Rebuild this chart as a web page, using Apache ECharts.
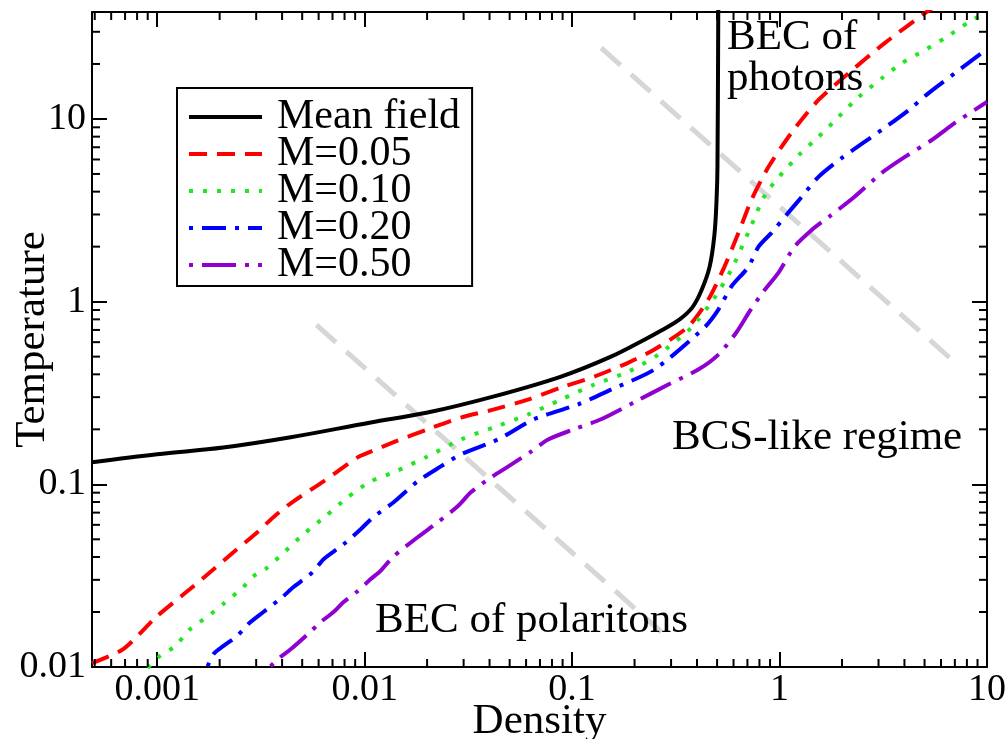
<!DOCTYPE html>
<html>
<head>
<meta charset="utf-8">
<script src="https://cdn.jsdelivr.net/npm/echarts@6/dist/echarts.min.js"></script>
<style>
  html, body { margin: 0; padding: 0; background: #fff; }
  #chart { width: 1008px; height: 739px; }
</style>
</head>
<body>
<div id="chart"></div>
<script>
// Axis ranges and decade labels
const xTickLabels = ['0.001', '0.01', '0.1', '1', '10'];
const yTickLabels = ['0.01', '0.1', '1', '10'];
const densityMin = 0.000485;
const densityMax = 10;
const tempMin = 0.01;
const tempMax = 38.5;

// Critical temperature vs density, [density, temperature]
const meanField = [
  [0.000485, 0.132], [0.001, 0.146], [0.00208, 0.159], [0.0044, 0.181],
  [0.0107, 0.218], [0.0201, 0.247], [0.042, 0.303], [0.0885, 0.389],
  [0.154, 0.50], [0.223, 0.619], [0.269, 0.695], [0.33, 0.80],
  [0.38, 0.93], [0.42, 1.15], [0.46, 1.55], [0.485, 2.3], [0.497, 3.6],
  [0.502, 5.5], [0.507, 50]
];
const m005 = [
  [0.000485, 0.0105], [0.000686, 0.01253], [0.001, 0.019], [0.00144, 0.0267],
  [0.00187, 0.0343], [0.00233, 0.0425], [0.00304, 0.0547], [0.00363, 0.0661],
  [0.00454, 0.0807], [0.00634, 0.1038], [0.00925, 0.1405], [0.0107, 0.151],
  [0.0138, 0.170], [0.0201, 0.200], [0.0291, 0.232], [0.042, 0.257],
  [0.0613, 0.291], [0.0885, 0.339], [0.128, 0.389], [0.187, 0.464],
  [0.249, 0.547], [0.363, 0.730], [0.454, 1.03], [0.542, 1.55],
  [0.634, 2.38], [0.732, 3.61], [0.885, 5.47], [1.14, 8.38],
  [1.54, 12.7], [2.15, 17.8], [3.21, 26.0], [5.01, 37.9], [6.06, 43.6]
];
const m010 = [
  [0.0009, 0.0099], [0.00103, 0.01148], [0.00122, 0.013], [0.00144, 0.0161],
  [0.00174, 0.0188], [0.00208, 0.0221], [0.0026, 0.0274], [0.00291, 0.0314],
  [0.00332, 0.0343], [0.00415, 0.0431], [0.00507, 0.0533], [0.00648, 0.0669],
  [0.00828, 0.0849], [0.0107, 0.1038], [0.0138, 0.1164], [0.0201, 0.142],
  [0.0291, 0.176], [0.042, 0.205], [0.0613, 0.241], [0.0885, 0.291],
  [0.128, 0.352], [0.187, 0.414], [0.26, 0.513], [0.376, 0.721],
  [0.48, 1.03], [0.586, 1.50], [0.716, 2.47], [0.865, 3.95],
  [1.24, 6.35], [1.54, 7.97], [1.93, 10.3], [2.41, 13.2],
  [3.11, 16.7], [3.88, 20.2], [5.01, 23.8], [6.26, 27.7],
  [8.18, 33.9], [10, 38.5]
];
const m020 = [
  [0.00175, 0.0101], [0.00187, 0.01178], [0.00208, 0.013], [0.00243, 0.0148],
  [0.00275, 0.0172], [0.00325, 0.020], [0.00402, 0.0242], [0.00454, 0.0274],
  [0.00561, 0.033], [0.00634, 0.0389], [0.00792, 0.047], [0.00957, 0.0568],
  [0.011, 0.0661], [0.0138, 0.0798], [0.018, 0.1038], [0.0233, 0.1253],
  [0.0291, 0.146], [0.0439, 0.176], [0.0655, 0.227], [0.107, 0.274],
  [0.154, 0.330], [0.249, 0.425], [0.434, 0.721], [0.507, 0.904],
  [0.586, 1.21], [0.708, 1.55], [0.792, 2.0], [0.914, 2.38],
  [1.10, 3.06], [1.28, 3.75], [1.54, 4.82], [1.99, 6.1],
  [3.11, 8.71], [4.20, 11.2], [5.25, 13.9], [7.0, 17.8],
  [9.46, 23.0], [10, 23.8]
];
const m050 = [
  [0.00352, 0.0101], [0.00393, 0.01135], [0.0044, 0.0125], [0.00531, 0.0151],
  [0.00613, 0.0176], [0.00708, 0.020], [0.00792, 0.0227], [0.00925, 0.026],
  [0.0107, 0.0303], [0.0119, 0.0335], [0.0138, 0.0404], [0.018, 0.0513],
  [0.0225, 0.062], [0.0281, 0.0758], [0.0325, 0.0904], [0.0406, 0.109],
  [0.0491, 0.125], [0.0634, 0.151], [0.0766, 0.176], [0.102, 0.200],
  [0.138, 0.227], [0.199, 0.281], [0.291, 0.352], [0.406, 0.425],
  [0.507, 0.513], [0.619, 0.678], [0.716, 0.881], [0.828, 1.12],
  [0.989, 1.44], [1.18, 2.0], [1.43, 2.47], [1.73, 2.91],
  [2.30, 3.75], [3.11, 5.07], [4.02, 6.20], [5.42, 7.67],
  [7.0, 9.51], [9.14, 11.6], [10, 12.4]
];

// Light guide lines separating the regimes
const guideLower = [[0.00586, 0.745], [0.269, 0.01556]];
const guideUpper = [[0.138, 24.5], [6.62, 0.492]];

const serif = 'Liberation Serif';

function decadeLabel(labels) {
  return function (v) {
    const e = Math.log10(v);
    const r = Math.round(e);
    if (Math.abs(e - r) > 1e-6) return '';
    const hit = labels.find(function (l) {
      return Math.abs(Math.log10(parseFloat(l)) - r) < 1e-6;
    });
    return hit || '';
  };
}

function minorValues(lo, hi) {
  const out = [];
  for (let k = Math.floor(Math.log10(lo)); k <= Math.ceil(Math.log10(hi)); k++) {
    for (let m = 2; m <= 9; m++) {
      const v = m * Math.pow(10, k);
      if (v > lo * 1.0001 && v < hi * 0.9999) out.push(v);
    }
  }
  return out;
}

const minorData = []
  .concat(minorValues(densityMin, densityMax).map(function (v) { return [v, tempMin, 0]; }))
  .concat(minorValues(tempMin, tempMax).map(function (v) { return [densityMin, v, 1]; }));

const frameLine = { onZero: false, lineStyle: { color: '#000', width: 2 } };
const majorTick = { inside: true, length: 15, lineStyle: { color: '#000', width: 2 } };

function xAxisDef(pos, showLabel) {
  return {
    type: 'log', logBase: 10, min: densityMin, max: densityMax, position: pos,
    axisLine: frameLine, axisTick: majorTick, splitLine: { show: false },
    minorTick: { show: false },
    axisLabel: {
      show: showLabel, margin: 4, formatter: decadeLabel(xTickLabels),
      fontFamily: serif, fontSize: 38, color: '#000'
    },
    name: showLabel ? 'Density' : '', nameLocation: 'middle', nameGap: 33,
    nameMoveOverlap: false,
    nameTextStyle: { fontFamily: serif, fontSize: 43, color: '#000' }
  };
}
function yAxisDef(pos, showLabel) {
  return {
    type: 'log', logBase: 10, min: tempMin, max: tempMax, position: pos,
    axisLine: frameLine, axisTick: majorTick, splitLine: { show: false },
    minorTick: { show: false },
    axisLabel: {
      show: showLabel, margin: 6, formatter: decadeLabel(yTickLabels),
      fontFamily: serif, fontSize: 38, color: '#000'
    },
    name: showLabel ? 'Temperature' : '', nameLocation: 'middle', nameGap: 38,
    nameMoveOverlap: false,
    nameTextStyle: { fontFamily: serif, fontSize: 43, color: '#000' }
  };
}

function curve(name, data, color, dash, smooth) {
  return {
    name: name, type: 'line', data: data, xAxisIndex: 0, yAxisIndex: 0,
    symbol: 'none', showSymbol: false, smooth: smooth, clip: true, z: 3,
    lineStyle: { color: color, width: 4, type: dash, cap: 'butt' },
    itemStyle: { color: color }, emphasis: { disabled: true }
  };
}
function guide(data) {
  return {
    type: 'line', data: data, xAxisIndex: 0, yAxisIndex: 0, symbol: 'none',
    silent: true, z: 1, clip: true,
    lineStyle: { color: '#d6d6d6', width: 5, type: [26, 14] }
  };
}

const chart = echarts.init(document.getElementById('chart'), null, { renderer: 'canvas' });
chart.setOption({
  animation: false,
  backgroundColor: '#fff',
  grid: { left: 92, right: 21, top: 12, bottom: 72, containLabel: false, outerBoundsMode: 'none' },
  xAxis: [xAxisDef('bottom', true), xAxisDef('top', false)],
  yAxis: [yAxisDef('left', true), yAxisDef('right', false)],
  legend: {
    data: ['Mean field', 'M=0.05', 'M=0.10', 'M=0.20', 'M=0.50'],
    orient: 'vertical', left: 177, top: 88,
    padding: [8, 12, 0, 10], itemGap: -5, itemWidth: 73, itemHeight: 10,
    borderColor: '#000', borderWidth: 2, borderRadius: 0, backgroundColor: '#fff',
    selectedMode: false,
    itemStyle: { opacity: 0 },
    lineStyle: { width: 4 },
    textStyle: { fontFamily: serif, fontSize: 42, color: '#000', padding: [0, 0, 0, 10] }
  },
  graphic: [
    { type: 'text', x: 727, y: 38, z: 50, style: { text: 'BEC of', fontFamily: serif, fontSize: 43, fill: '#000', align: 'left', verticalAlign: 'middle' } },
    { type: 'text', x: 727, y: 79, z: 50, style: { text: 'photons', fontFamily: serif, fontSize: 43, fill: '#000', align: 'left', verticalAlign: 'middle' } },
    { type: 'text', x: 672, y: 438, z: 50, style: { text: 'BCS-like regime', fontFamily: serif, fontSize: 43, fill: '#000', align: 'left', verticalAlign: 'middle' } },
    { type: 'text', x: 375, y: 621, z: 50, style: { text: 'BEC of polaritons', fontFamily: serif, fontSize: 43, fill: '#000', align: 'left', verticalAlign: 'middle' } }
  ],
  series: [
    guide(guideLower),
    guide(guideUpper),
    curve('Mean field', meanField, '#000000', 'solid', 0.35),
    curve('M=0.05', m005, '#ff0000', [18, 10], 0.25),
    curve('M=0.10', m010, '#22e622', [4, 10], 0.25),
    curve('M=0.20', m020, '#0000ff', [4, 9, 24, 9], 0.25),
    curve('M=0.50', m050, '#9000d0', [4, 9, 34, 9], 0.25),
    {
      type: 'custom', data: minorData, xAxisIndex: 0, yAxisIndex: 0, silent: true, z: 4,
      encode: { x: 0, y: 1 },
      renderItem: function (params, api) {
        const cs = params.coordSys;
        const len = 8;
        const style = { stroke: '#000', lineWidth: 2 };
        if (api.value(2) === 0) {
          const x = api.coord([api.value(0), tempMin])[0];
          return { type: 'group', children: [
            { type: 'line', shape: { x1: x, y1: cs.y + cs.height, x2: x, y2: cs.y + cs.height - len }, style: style },
            { type: 'line', shape: { x1: x, y1: cs.y, x2: x, y2: cs.y + len }, style: style }
          ] };
        }
        const y = api.coord([densityMin, api.value(1)])[1];
        return { type: 'group', children: [
          { type: 'line', shape: { x1: cs.x, y1: y, x2: cs.x + len, y2: y }, style: style },
          { type: 'line', shape: { x1: cs.x + cs.width, y1: y, x2: cs.x + cs.width - len, y2: y }, style: style }
        ] };
      }
    }
  ]
});
</script>
</body>
</html>
